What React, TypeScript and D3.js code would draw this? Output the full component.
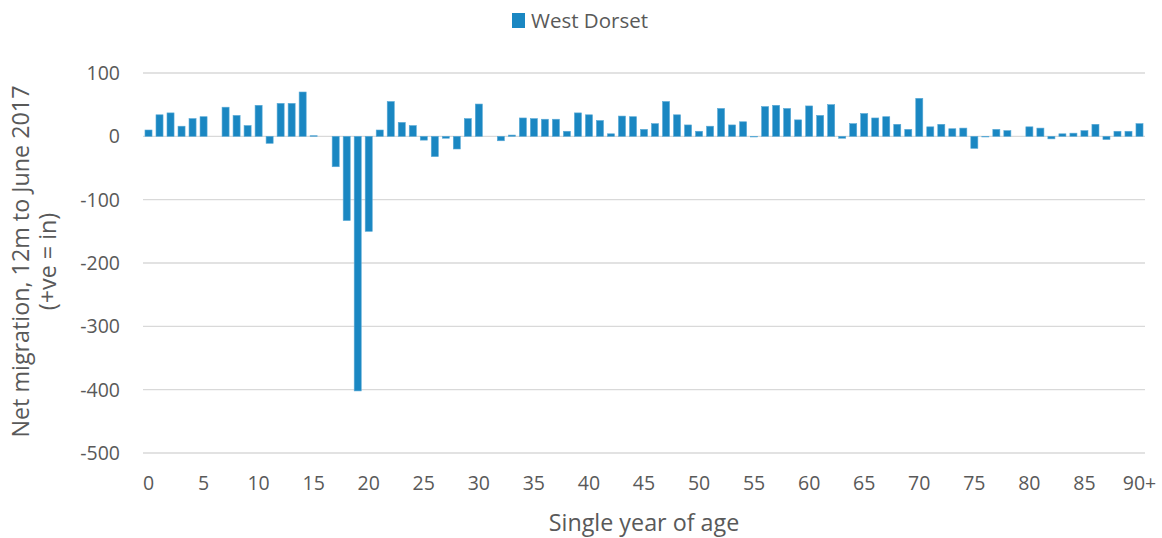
import React, { useRef, useEffect } from "react";
import * as d3 from "d3";

// ages 0..90+ and net migration values
const ages: string[] = Array.from({ length: 91 }, (_, i) => (i === 90 ? "90+" : String(i)));
const netMigration: number[] = [
  10, 34, 37, 16, 28, 31, 0, 46, 33, 17,
  49, -11, 52, 52, 70, 1, 0, -48, -133, -402,
  -150, 10, 55, 22, 17, -6, -32, -3, -20, 28,
  51, 0, -7, 2, 29, 28, 27, 27, 8, 37,
  34, 25, 4, 32, 31, 11, 20, 55, 34, 18,
  8, 16, 44, 18, 23, -1, 47, 49, 44, 26,
  48, 33, 50, -3, 20, 36, 29, 31, 19, 11,
  60, 15, 19, 12, 13, -19, -1, 11, 9, 0,
  15, 13, -4, 4, 5, 9, 19, -5, 8, 8,
  20,
];
const yTicks: number[] = [100, 0, -100, -200, -300, -400, -500];
const xTickLabels: string[] = ["0", "5", "10", "15", "20", "25", "30", "35", "40", "45", "50", "55", "60", "65", "70", "75", "80", "85", "90+"];
const seriesName = "West Dorset";

const App = () => {
  const svgRef = useRef<SVGSVGElement>(null);

  useEffect(() => {
    const width = 1162;
    const height = 538;
    const margin = { top: 73, right: 17, bottom: 85, left: 143 };
    const font = "'Open Sans', sans-serif";
    const textColor = "#595959";
    const barColor = "#1a87c2";

    const svg = d3.select(svgRef.current);
    svg.selectAll("*").remove();

    const x = d3
      .scaleBand<string>()
      .domain(ages)
      .range([margin.left, width - margin.right])
      .paddingInner(0.36)
      .paddingOuter(0.18);

    const y = d3
      .scaleLinear()
      .domain([-500, 100])
      .range([height - margin.bottom, margin.top]);

    // gridlines
    svg
      .append("g")
      .selectAll("line")
      .data(yTicks)
      .join("line")
      .attr("x1", margin.left)
      .attr("x2", width - margin.right)
      .attr("y1", (d) => y(d))
      .attr("y2", (d) => y(d))
      .attr("stroke", "#d9d9d9")
      .attr("stroke-width", 1.3);

    // y tick labels (plain hyphen like the original)
    svg
      .append("g")
      .selectAll("text")
      .data(yTicks)
      .join("text")
      .attr("x", 120)
      .attr("y", (d) => y(d))
      .attr("dy", "0.36em")
      .attr("text-anchor", "end")
      .attr("font-family", font)
      .attr("font-size", "19.5px")
      .attr("fill", textColor)
      .text((d) => String(d));

    // bars
    svg
      .append("g")
      .selectAll("rect")
      .data(netMigration)
      .join("rect")
      .attr("x", (d, i) => x(ages[i])!)
      .attr("width", x.bandwidth())
      .attr("y", (d) => y(Math.max(0, d)))
      .attr("height", (d) => Math.abs(y(d) - y(0)))
      .attr("fill", barColor)
      .attr("stroke", "#5aaad6")
      .attr("stroke-width", 0.6);

    // x tick labels
    svg
      .append("g")
      .selectAll("text")
      .data(xTickLabels)
      .join("text")
      .attr("x", (d) => x(d)! + x.bandwidth() / 2)
      .attr("y", 490)
      .attr("text-anchor", "middle")
      .attr("font-family", font)
      .attr("font-size", "19.5px")
      .attr("fill", textColor)
      .text((d) => d);

    // axis titles
    svg
      .append("text")
      .attr("x", (margin.left + width - margin.right) / 2)
      .attr("y", 531)
      .attr("text-anchor", "middle")
      .attr("font-family", font)
      .attr("font-size", "23.3px")
      .attr("fill", textColor)
      .text("Single year of age");

    const yTitle = svg
      .append("text")
      .attr("transform", `translate(29,261.5) rotate(-90)`)
      .attr("text-anchor", "middle")
      .attr("font-family", font)
      .attr("font-size", "23.3px")
      .attr("fill", textColor);
    yTitle.append("tspan").attr("x", 0).attr("dy", 0).text("Net migration, 12m to June 2017");
    yTitle.append("tspan").attr("x", 0).attr("dy", 27).text("(+ve = in)");

    // legend
    const legend = svg.append("g").attr("transform", "translate(512,13)");
    legend.append("rect").attr("width", 13).attr("height", 15).attr("y", 0).attr("fill", barColor);
    legend
      .append("text")
      .attr("x", 19)
      .attr("y", 15)
      .attr("font-family", font)
      .attr("font-size", "20.5px")
      .attr("fill", textColor)
      .text(seriesName);
  }, []);

  return (
    <svg
      ref={svgRef}
      width={1162}
      height={538}
      style={{ position: "absolute", left: 0, top: 0, background: "#fff" }}
    ></svg>
  );
};

export default App;
